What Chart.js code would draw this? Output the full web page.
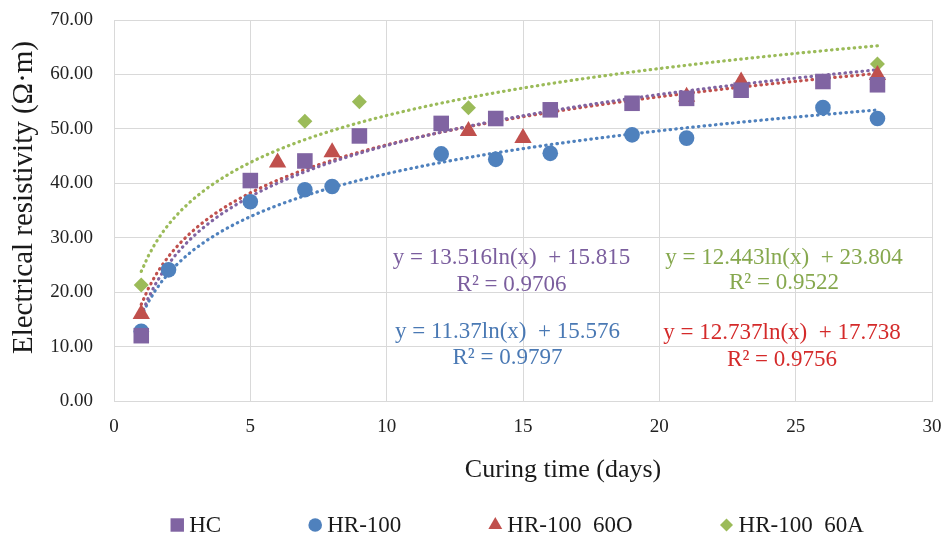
<!DOCTYPE html>
<html>
<head>
<meta charset="utf-8">
<script src="https://cdn.jsdelivr.net/npm/chart.js@4.4.1/dist/chart.umd.min.js"></script>
<style>
  html, body { margin: 0; padding: 0; background: #fff; }
  #wrap { width: 944px; height: 535px; }
</style>
</head>
<body>
<div id="wrap"><canvas id="c" width="944" height="535"></canvas></div>
<script>
// Curing time (days) and resistivity (Ω·m) per mix
const hcDays   = [1, 5, 7, 9, 12, 14, 16, 19, 21, 23, 26, 28];
const hcVals   = [12.0, 40.5, 44.1, 48.7, 51.0, 51.9, 53.5, 54.7, 55.6, 57.1, 58.7, 58.1];
const hrDays   = [1, 2, 5, 7, 8, 12, 14, 16, 19, 21, 26, 28];
const hrVals   = [12.8, 24.1, 36.6, 38.8, 39.4, 45.4, 44.4, 45.5, 48.9, 48.3, 53.9, 51.9];
const hr60oDays = [1, 6, 8, 13, 15, 21, 23, 28];
const hr60oVals = [16.0, 43.8, 45.7, 49.6, 48.3, 55.9, 58.7, 59.9];
const hr60aDays = [1, 7, 9, 13, 28];
const hr60aVals = [21.3, 51.4, 55.0, 53.9, 61.9];

const seriesNames = ['HC', 'HR-100', 'HR-100  60O', 'HR-100  60A'];
// Logarithmic fits y = a·ln(x) + b, as printed on the chart
const fitA  = [13.516, 11.37, 12.737, 12.443];
const fitB  = [15.815, 15.576, 17.738, 23.804];
const fitR2 = ['0.9706', '0.9797', '0.9756', '0.9522'];

const xTitle = 'Curing time (days)';
const yTitle = 'Electrical resistivity (Ω·m)';

const markerColors = ['#8064A2', '#4F81BD', '#C0504D', '#9BBB59'];
const labelColors  = ['#7B5E9E', '#4A79B4', '#D42A2A', '#86A84E'];
const markerShapes = ['rect', 'circle', 'triangle', 'rectRot'];
const markerSizes  = [11, 7.8, 10, 7.5];
const legendSizes  = [9.5, 6.8, 8, 6.5];
// [x, equation y, R² y] in data units for each fit label
const fitLabelPos  = [[14.58, 26.3, 21.3], [14.43, 12.7, 7.9], [24.5, 12.5, 7.6], [24.57, 26.3, 21.7]];

const serif = '"Liberation Serif", "Times New Roman", serif';

const xs = [hcDays, hrDays, hr60oDays, hr60aDays];
const ys = [hcVals, hrVals, hr60oVals, hr60aVals];

const datasets = [];
// fitted curves drawn first (behind the markers)
for (let i = 0; i < 4; i++) {
  const pts = [];
  for (let k = 0; k <= 108; k++) {
    const x = 1 + k * 27 / 108;
    pts.push({ x: x, y: fitA[i] * Math.log(x) + fitB[i] });
  }
  datasets.push({
    label: seriesNames[i] + ' fit',
    data: pts,
    showLine: true,
    borderColor: markerColors[i],
    borderWidth: 3.2,
    borderDash: [0.5, 5.2],
    borderCapStyle: 'round',
    pointRadius: 0,
    pointHoverRadius: 0,
    fill: false,
    tension: 0,
    order: 2
  });
}
for (let i = 0; i < 4; i++) {
  datasets.push({
    label: seriesNames[i],
    data: xs[i].map((x, j) => ({ x: x, y: ys[i][j] })),
    showLine: false,
    backgroundColor: markerColors[i],
    borderColor: markerColors[i],
    borderWidth: 0,
    pointStyle: markerShapes[i],
    pointRadius: markerSizes[i],
    order: 1
  });
}

// equation + R² labels placed in data coordinates
const fitLabels = {
  id: 'fitLabels',
  afterDatasetsDraw(chart) {
    const ctx = chart.ctx;
    const sx = chart.scales.x, sy = chart.scales.y;
    ctx.save();
    ctx.font = '23px ' + serif;
    ctx.textAlign = 'center';
    ctx.textBaseline = 'middle';
    for (let i = 0; i < 4; i++) {
      const p = fitLabelPos[i];
      ctx.fillStyle = labelColors[i];
      const eq = 'y = ' + fitA[i] + 'ln(x)  + ' + fitB[i];
      ctx.fillText(eq, sx.getPixelForValue(p[0]), sy.getPixelForValue(p[1]));
      ctx.fillText('R² = ' + fitR2[i], sx.getPixelForValue(p[0]), sy.getPixelForValue(p[2]));
    }
    ctx.restore();
  }
};

// axis titles, set slightly off the plot centre
const axisTitles = {
  id: 'axisTitles',
  afterDraw(chart) {
    const ctx = chart.ctx;
    const a = chart.chartArea;
    ctx.save();
    ctx.fillStyle = '#1a1a1a';
    ctx.textAlign = 'center';
    ctx.textBaseline = 'middle';
    ctx.font = '26px ' + serif;
    ctx.fillText(xTitle, (a.left + a.right) / 2 + 40, a.bottom + 69);
    ctx.translate(24, (a.top + a.bottom) / 2 - 13);
    ctx.rotate(-Math.PI / 2);
    ctx.font = '29px ' + serif;
    ctx.fillText(yTitle, 0, 0);
    ctx.restore();
  }
};

// single-row legend along the bottom, with wide gaps between entries
const bottomLegend = {
  id: 'bottomLegend',
  afterDraw(chart) {
    const ctx = chart.ctx;
    const gap = 87, markW = 14, textGap = 5;
    const cy = chart.height - 10;
    const cx = 517;
    ctx.save();
    ctx.font = '23px ' + serif;
    const widths = seriesNames.map(n => markW + textGap + ctx.measureText(n).width);
    const total = widths.reduce((a, b) => a + b, 0) + gap * (seriesNames.length - 1);
    let x = cx - total / 2;
    ctx.textBaseline = 'middle';
    ctx.textAlign = 'left';
    seriesNames.forEach((n, i) => {
      ctx.fillStyle = markerColors[i];
      ctx.strokeStyle = markerColors[i];
      Chart.helpers.drawPoint(ctx, { pointStyle: markerShapes[i], radius: legendSizes[i], borderWidth: 0, rotation: 0 }, x + markW / 2, cy);
      ctx.fillStyle = '#1a1a1a';
      ctx.fillText(n, x + markW + textGap, cy + 1);
      x += widths[i] + gap;
    });
    ctx.restore();
  }
};

new Chart(document.getElementById('c'), {
  type: 'scatter',
  data: { datasets: datasets },
  options: {
    responsive: false,
    animation: false,
    layout: { padding: { top: 20, right: 12, left: 0, bottom: 49 } },
    plugins: {
      tooltip: { enabled: false },
      legend: { display: false }
    },
    scales: {
      x: {
        type: 'linear',
        min: 0, max: 30,
        ticks: { stepSize: 5, color: '#222', font: { family: serif, size: 19 }, padding: 15 },
        grid: { color: '#d9d9d9', lineWidth: 1, drawTicks: false },
        border: { color: '#d9d9d9' },
        title: { display: false },
        afterFit(scale) { scale.height = 85; scale.paddingLeft = 0; scale.paddingRight = 0; }
      },
      y: {
        min: 0, max: 70,
        ticks: { stepSize: 10, color: '#222', font: { family: serif, size: 19 }, padding: 21,
          callback: v => v.toFixed(2) },
        grid: { color: '#d9d9d9', lineWidth: 1, drawTicks: false },
        border: { color: '#d9d9d9' },
        title: { display: false },
        afterFit(scale) { scale.width = 114; scale.paddingTop = 0; scale.paddingBottom = 0; }
      }
    }
  },
  plugins: [fitLabels, axisTitles, bottomLegend]
});
</script>
</body>
</html>
